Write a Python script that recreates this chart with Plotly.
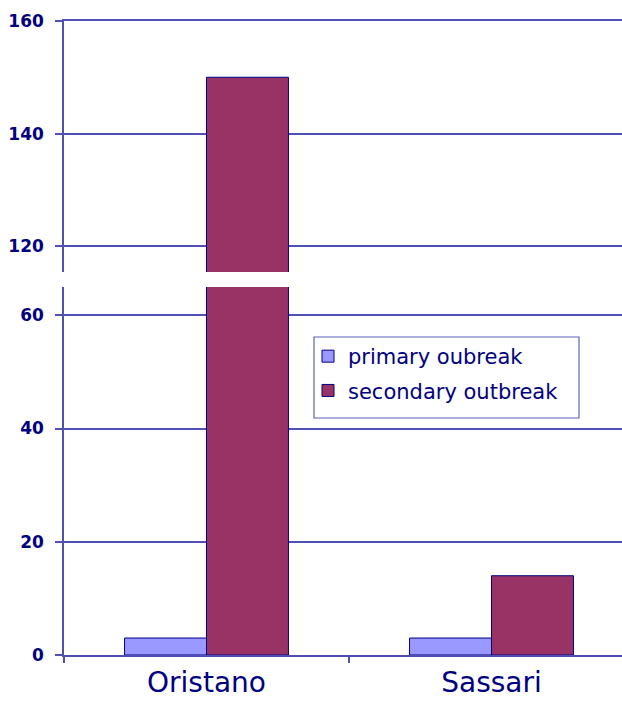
import plotly.graph_objects as go

# Outbreak counts per province
provinces = ["Oristano", "Sassari"]
primary_outbreak = [3, 3]
secondary_outbreak = [150, 14]
series_names = ["primary oubreak", "secondary outbreak"]

# Broken value axis: lower and upper segments
lower_range = [0, 65]
upper_range = [115.4, 160]
lower_ticks = [0, 20, 40, 60]
upper_ticks = [120, 140, 160]

NAVY = "#000080"
GRID = "#5050B4"
FILL_PRIMARY = "#9999FF"
FILL_SECONDARY = "#993366"
FONT = "DejaVu Sans, Verdana, sans-serif"

W, H = 622, 702
ML, MR, MT, MB = 64, 0, 21, 47
PW, PH = W - ML - MR, H - MT - MB


def px_to_x(px):
    return (px - ML) / PW


def px_to_y(py):
    return (H - MB - py) / PH


fig = go.Figure()

for axis_x, axis_y, show in (("x", "y", True), ("x2", "y2", False)):
    fig.add_trace(go.Bar(
        x=provinces, y=primary_outbreak, name=series_names[0],
        marker=dict(color=FILL_PRIMARY, line=dict(color=NAVY, width=1)),
        xaxis=axis_x, yaxis=axis_y, showlegend=show, legendgroup="p",
    ))
    fig.add_trace(go.Bar(
        x=provinces, y=secondary_outbreak, name=series_names[1],
        marker=dict(color=FILL_SECONDARY, line=dict(color=NAVY, width=1)),
        xaxis=axis_x, yaxis=axis_y, showlegend=show, legendgroup="s",
    ))

x_span = PW / 285.0  # width of one category in pixels
x_range = [-0.5, -0.5 + x_span]

lower_top = px_to_y(287)
upper_bottom = px_to_y(272)

tick_font = dict(family=FONT, size=17, color=NAVY, weight="bold")

fig.update_layout(
    width=W, height=H,
    margin=dict(l=ML, r=MR, t=MT, b=MB, autoexpand=False),
    paper_bgcolor="white", plot_bgcolor="white",
    barmode="group", bargap=0.425, bargroupgap=0,
    showlegend=True,
    legend=dict(
        x=px_to_x(308), y=px_to_y(336), xanchor="left", yanchor="top",
        bgcolor="rgba(0,0,0,0)", borderwidth=0,
        font=dict(family=FONT, size=21, color=NAVY),
        tracegroupgap=4, traceorder="grouped",
    ),
    xaxis=dict(
        domain=[0, 1], range=x_range, type="category",
        showline=True, linecolor=GRID, linewidth=1.5,
        ticks="outside", tickson="boundaries", ticklen=6, tickcolor=GRID,
        tickwidth=1.5, showgrid=False, zeroline=False,
        tickfont=dict(family=FONT, size=28, color=NAVY),
        ticklabelstandoff=2,
        automargin=False, anchor="y",
    ),
    yaxis=dict(
        domain=[0, lower_top], range=lower_range, tickvals=lower_ticks,
        showline=True, linecolor=GRID, linewidth=1.5,
        ticks="outside", ticklen=7, tickcolor=GRID, tickwidth=1.5,
        showgrid=True, gridcolor=GRID, gridwidth=1.5, zeroline=False,
        tickfont=tick_font, ticklabelstandoff=8,
        automargin=False, anchor="x",
    ),
    # upper segment: its x axis only draws the rule along the top edge
    xaxis2=dict(
        domain=[0, 1], range=x_range, type="category", matches="x",
        side="top", showline=True, linecolor=GRID, linewidth=1.5,
        showticklabels=False, ticks="", showgrid=False,
        zeroline=False, automargin=False, anchor="y2",
    ),
    yaxis2=dict(
        domain=[upper_bottom, 1], range=upper_range, tickvals=upper_ticks,
        showline=True, linecolor=GRID, linewidth=1.5,
        ticks="outside", ticklen=7, tickcolor=GRID, tickwidth=1.5,
        showgrid=True, gridcolor=GRID, gridwidth=1.5, zeroline=False,
        tickfont=tick_font, ticklabelstandoff=8,
        automargin=False, anchor="x2",
    ),
    shapes=[dict(
        type="rect", xref="paper", yref="paper", layer="above",
        x0=px_to_x(314), x1=px_to_x(579), y0=px_to_y(418), y1=px_to_y(337),
        line=dict(color="#6060C0", width=1.2), fillcolor="white",
    )],
)

fig.write_html("out.html")
